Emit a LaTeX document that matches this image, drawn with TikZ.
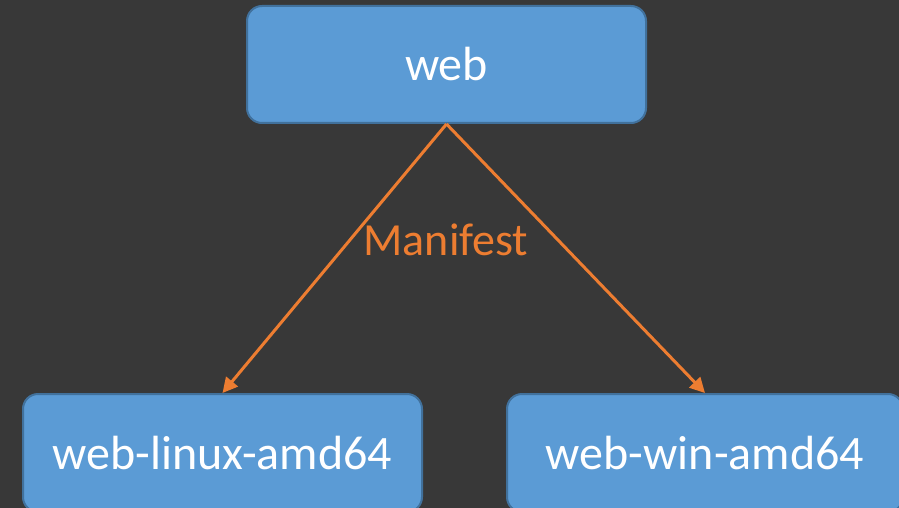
\documentclass[tikz,border=0pt]{standalone}
\usepackage{fontspec}
\setmainfont{Carlito}
\usetikzlibrary{arrows.meta}
\definecolor{bgdark}{HTML}{383838}
\definecolor{boxfill}{HTML}{5B9BD5}
\definecolor{boxedge}{HTML}{41719C}
\definecolor{linkorange}{HTML}{ED7D31}
\tikzset{
  imgbox/.style={draw=boxedge, line width=2pt, fill=boxfill, rounded corners=15pt,
    text=white, font=\fontsize{48}{57}\selectfont, inner sep=0pt},
  link/.style={draw=linkorange, line width=3pt, -{Triangle[length=15pt,width=15pt]}},
  linklabel/.style={text=linkorange, font=\fontsize{46}{55}\selectfont, inner sep=0pt}
}
\begin{document}
\begin{tikzpicture}[x=1pt,y=-1pt]
  \useasboundingbox (0,0) rectangle (899,508);
  \clip (0,0) rectangle (899,508);
  \fill[bgdark] (0,0) rectangle (899,508);

  % upper image and the two platform images
  \node[imgbox, minimum width=399pt, minimum height=117pt] (web) at (446.5,64.5) {web};
  \node[imgbox, minimum width=399pt, minimum height=118pt] (linux) at (222.5,453) {web-linux-amd64};
  \node[imgbox, minimum width=396pt, minimum height=118pt] (win) at (705,453) {web-win-amd64};

  % manifest links
  \draw[link] (web.south) -- (linux.north);
  \draw[link] (web.south) -- (win.north);
  \node[linklabel, anchor=base] (manifest) at (446,255) {Manifest};
\end{tikzpicture}
\end{document}
